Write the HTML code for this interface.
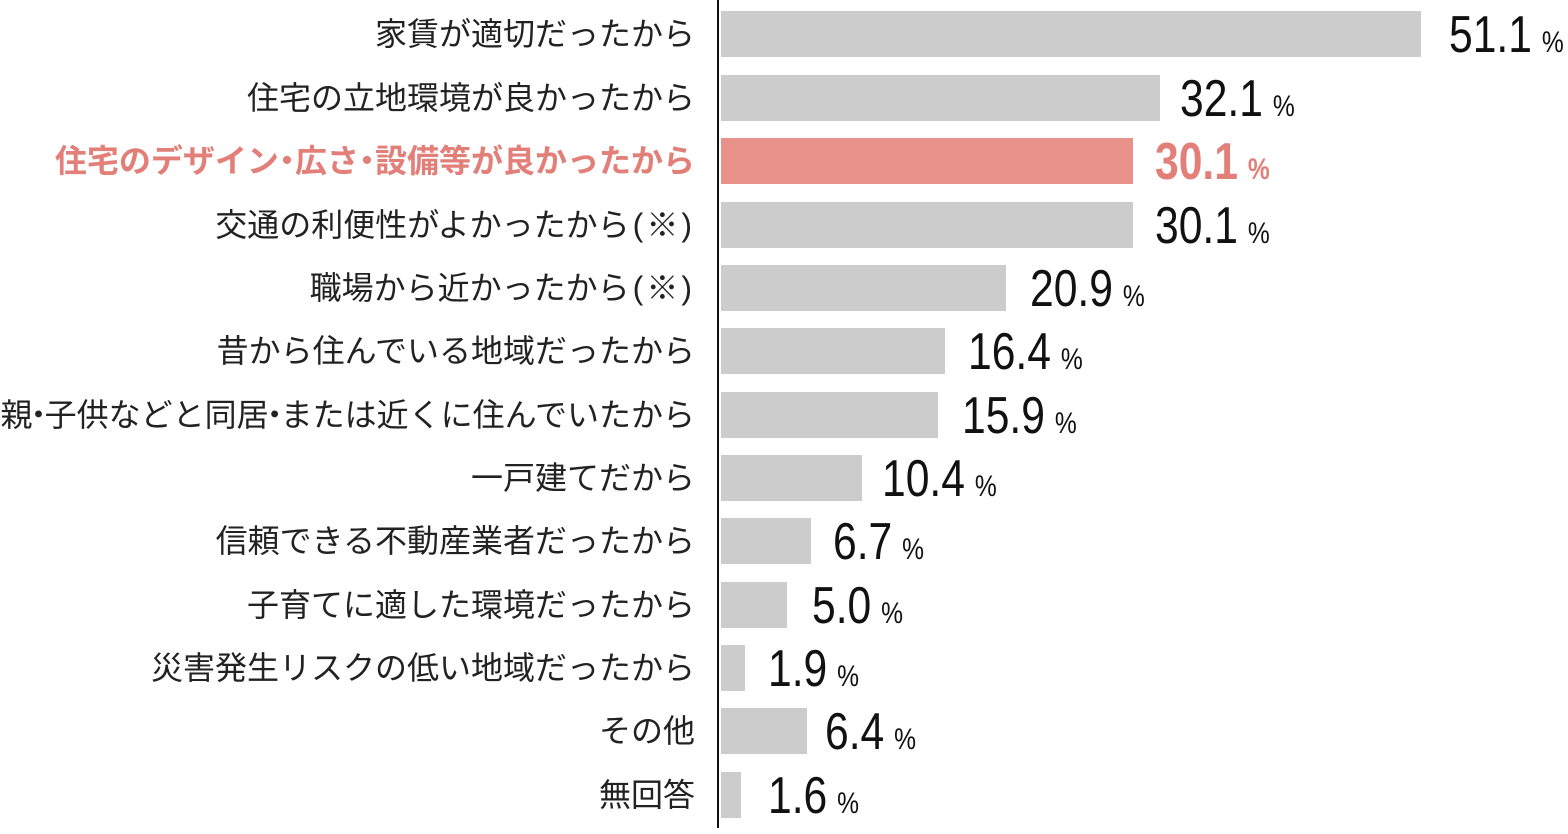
<!DOCTYPE html>
<html><head><meta charset="utf-8"><style>
body{margin:0;width:1568px;height:828px;background:#fff;position:relative;overflow:hidden;font-family:"Liberation Sans","Noto Sans CJK JP",sans-serif;}
.axis{position:absolute;left:717px;top:0;width:2px;height:828px;background:#111;}
.row{position:absolute;left:0;width:1568px;height:46px;}
.lab{position:absolute;right:873px;top:0;line-height:46px;font-size:32px;color:#222;white-space:nowrap;}
.d{margin:0 -10px;}
.hl .d{margin:0 -8px;}
.p{margin:0 3px;}
.bar{position:absolute;left:721px;top:0;height:46px;background:#cccccc;}
.val{position:absolute;top:-6px;line-height:60px;font-family:"Liberation Sans Narrow","Liberation Sans",sans-serif;font-size:52px;color:#111;white-space:nowrap;transform:scaleX(0.82);transform-origin:left center;}
.val small{font-size:30px;margin-left:12px;}
.hl .lab,.hl .val{color:#e27f79;font-weight:bold;}
.hl .bar{background:#e8908a;}
</style></head><body>
<div class="axis"></div>
<div class="row" style="top:11px"><div class="lab">家賃が適切だったから</div><div class="bar" style="width:700px"></div><div class="val" style="left:1449px">51.1<small>%</small></div></div>
<div class="row" style="top:75px"><div class="lab">住宅の立地環境が良かったから</div><div class="bar" style="width:439px"></div><div class="val" style="left:1180px">32.1<small>%</small></div></div>
<div class="row hl" style="top:138px"><div class="lab">住宅のデザイン<span class="d">・</span>広さ<span class="d">・</span>設備等が良かったから</div><div class="bar" style="width:412px"></div><div class="val" style="left:1155px">30.1<small>%</small></div></div>
<div class="row" style="top:202px"><div class="lab">交通の利便性がよかったから<span class="p">(</span>※<span class="p">)</span></div><div class="bar" style="width:412px"></div><div class="val" style="left:1155px">30.1<small>%</small></div></div>
<div class="row" style="top:265px"><div class="lab">職場から近かったから<span class="p">(</span>※<span class="p">)</span></div><div class="bar" style="width:285px"></div><div class="val" style="left:1030px">20.9<small>%</small></div></div>
<div class="row" style="top:328px"><div class="lab">昔から住んでいる地域だったから</div><div class="bar" style="width:224px"></div><div class="val" style="left:968px">16.4<small>%</small></div></div>
<div class="row" style="top:392px"><div class="lab">親<span class="d">・</span>子供などと同居<span class="d">・</span>または近くに住んでいたから</div><div class="bar" style="width:217px"></div><div class="val" style="left:962px">15.9<small>%</small></div></div>
<div class="row" style="top:455px"><div class="lab">一戸建てだから</div><div class="bar" style="width:141px"></div><div class="val" style="left:882px">10.4<small>%</small></div></div>
<div class="row" style="top:518px"><div class="lab">信頼できる不動産業者だったから</div><div class="bar" style="width:90px"></div><div class="val" style="left:833px">6.7<small>%</small></div></div>
<div class="row" style="top:582px"><div class="lab">子育てに適した環境だったから</div><div class="bar" style="width:66px"></div><div class="val" style="left:812px">5.0<small>%</small></div></div>
<div class="row" style="top:645px"><div class="lab">災害発生リスクの低い地域だったから</div><div class="bar" style="width:24px"></div><div class="val" style="left:768px">1.9<small>%</small></div></div>
<div class="row" style="top:708px"><div class="lab">その他</div><div class="bar" style="width:86px"></div><div class="val" style="left:825px">6.4<small>%</small></div></div>
<div class="row" style="top:772px"><div class="lab">無回答</div><div class="bar" style="width:20px"></div><div class="val" style="left:768px">1.6<small>%</small></div></div>
</body></html>
